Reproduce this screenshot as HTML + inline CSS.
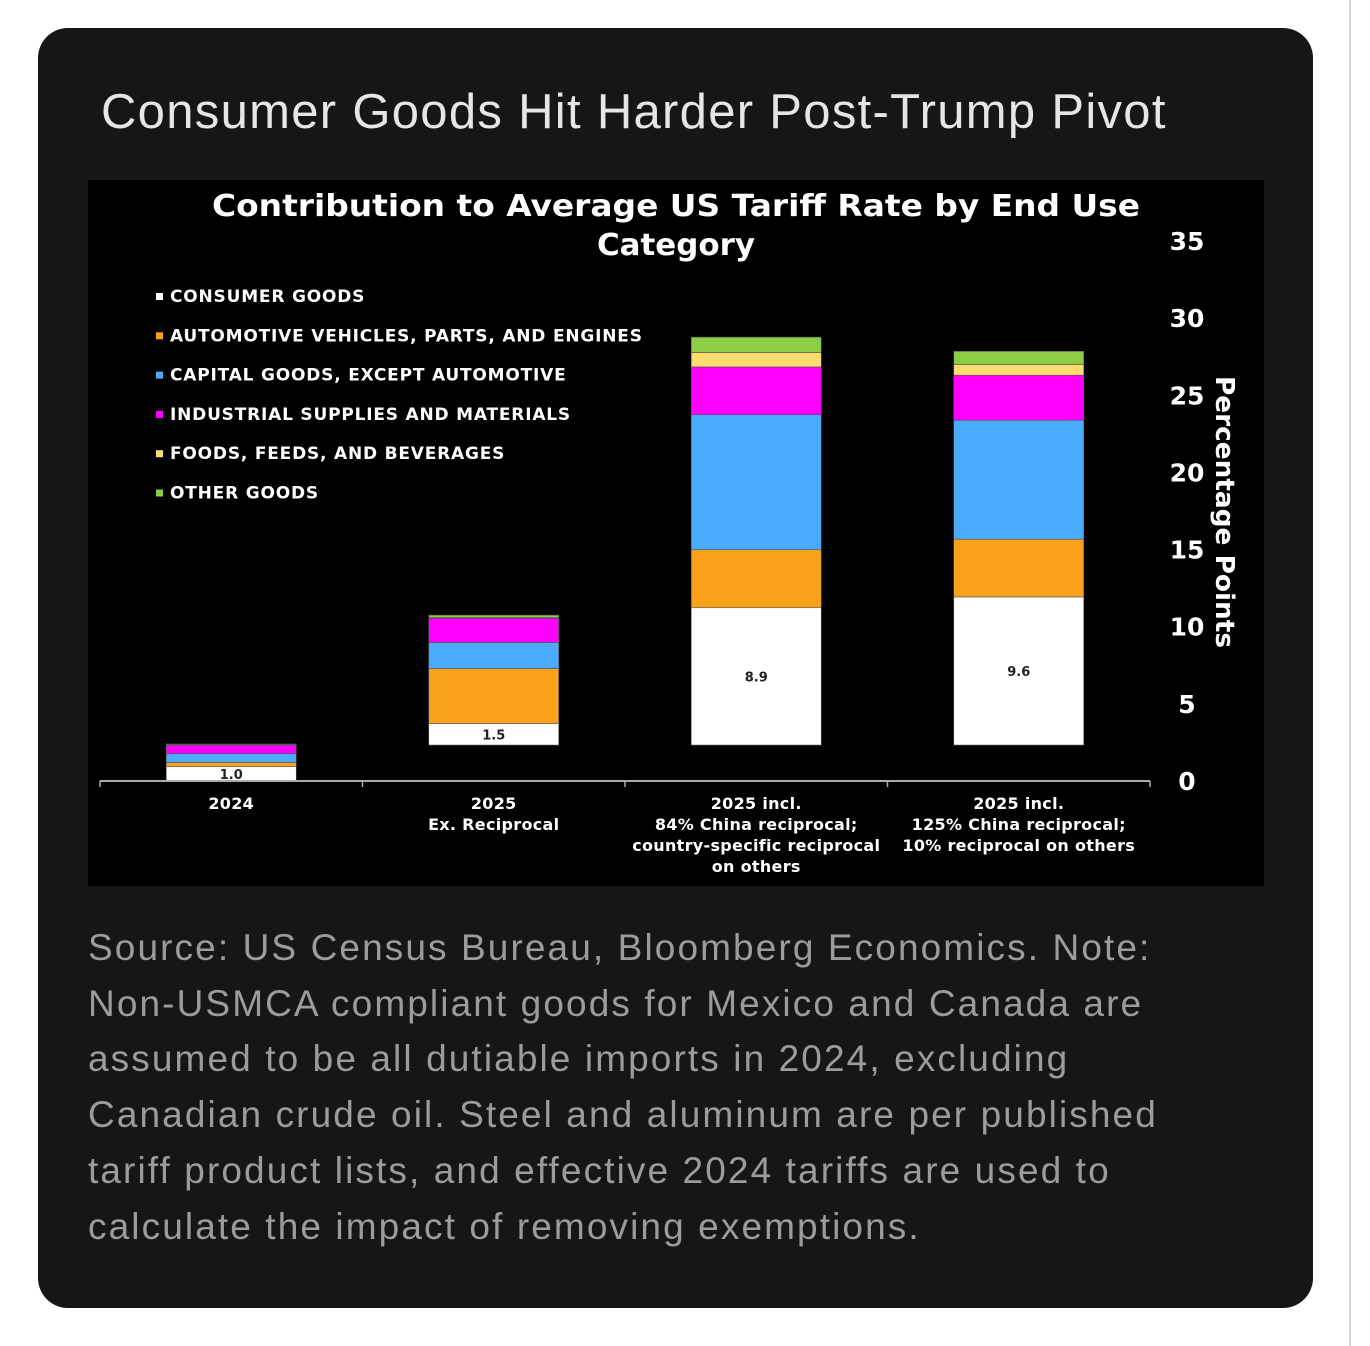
<!DOCTYPE html>
<html><head><meta charset="utf-8">
<style>
html,body{margin:0;padding:0;background:#fff;}
body{width:1370px;height:1346px;position:relative;overflow:hidden;font-family:"Liberation Sans",sans-serif;}
#card{position:absolute;left:38px;top:28px;width:1275px;height:1280px;background:#161616;border-radius:30px;}
#scroll{position:absolute;left:1349px;top:0;width:2px;height:1346px;background:#d8d8d8;}
#title{position:absolute;left:101px;top:84px;font-size:49px;color:#e6e6e6;white-space:nowrap;letter-spacing:1.3px;}
#source{position:absolute;left:88px;top:920px;width:1200px;font-size:37px;line-height:55.7px;color:#9c9c9c;letter-spacing:2.1px;white-space:nowrap;}
svg{position:absolute;left:0;top:0;}
svg text{font-family:"DejaVu Sans","Liberation Sans",sans-serif;font-weight:bold;}
</style></head>
<body>
<div id="scroll"></div>
<div id="card"></div>
<div id="title">Consumer Goods Hit Harder Post-Trump Pivot</div>
<svg id="chart" width="1370" height="1346">
<rect x="88" y="180" width="1176" height="706" fill="#000"/>
<text x="676" y="216" text-anchor="middle" fill="#fff" font-size="30" textLength="928" lengthAdjust="spacingAndGlyphs">Contribution to Average US Tariff Rate by End Use</text>
<text x="676" y="255" text-anchor="middle" fill="#fff" font-size="30" textLength="158" lengthAdjust="spacingAndGlyphs">Category</text>
<g id="legend"></g>
<g id="bars"></g>
<g id="axis"></g>
<text transform="translate(1216,512) rotate(90)" text-anchor="middle" fill="#fff" font-size="26" textLength="272" lengthAdjust="spacingAndGlyphs">Percentage Points</text>
</svg>
<div id="source">Source: US Census Bureau, Bloomberg Economics. Note:<br>Non-USMCA compliant goods for Mexico and Canada are<br>assumed to be all dutiable imports in 2024, excluding<br>Canadian crude oil. Steel and aluminum are per published<br>tariff product lists, and effective 2024 tariffs are used to<br>calculate the impact of removing exemptions.</div>
<script>
const categories = [["2024"],["2025","Ex. Reciprocal"],["2025 incl.","84% China reciprocal;","country-specific reciprocal","on others"],["2025 incl.","125% China reciprocal;","10% reciprocal on others"]];
const seriesNames = ["CONSUMER GOODS","AUTOMOTIVE VEHICLES, PARTS, AND ENGINES","CAPITAL GOODS, EXCEPT AUTOMOTIVE","INDUSTRIAL SUPPLIES AND MATERIALS","FOODS, FEEDS, AND BEVERAGES","OTHER GOODS"];
const seriesColors = ["#ffffff","#fba21c","#4aabff","#ff00ff","#ffdc6e","#8dcc45"];
const hiddenBase = [0, 2.33, 2.33, 2.33];
const consumer = [0.93, 1.4, 8.9, 9.6];
const automotive = [0.27, 3.56, 3.76, 3.74];
const capital = [0.57, 1.69, 8.75, 7.71];
const industrial = [0.56, 1.57, 3.1, 2.92];
const foods = [0.03, 0.05, 0.93, 0.69];
const other = [0.04, 0.15, 1.0, 0.86];
const valueLabels = ["1.0","1.5","8.9","9.6"];
const yTicks = [0,5,10,15,20,25,30,35];
const series = [consumer, automotive, capital, industrial, foods, other];

const NS="http://www.w3.org/2000/svg";
const y0=781, pxPer=540/35, xL=100, catW=262.5, barW=130;
const yScale = v => y0 - v*pxPer;
const xCenter = i => xL + catW*(i+0.5);
function mk(tag, attrs, parent){const e=document.createElementNS(NS,tag);for(const k in attrs)e.setAttribute(k,attrs[k]);parent.appendChild(e);return e;}

const lg=document.getElementById('legend');
seriesNames.forEach((n,i)=>{
  const yy=301+i*39.3;
  const sq=mk('rect',{x:156,y:yy-8,width:7,height:7,fill:seriesColors[i]},lg);
  
  
  const t=mk('text',{x:170,y:yy+1,fill:'#fff','font-size':17,'letter-spacing':0.8},lg);
  t.textContent=n;
  
  
});

const bg=document.getElementById('bars');
categories.forEach((c,i)=>{
  let cum=hiddenBase[i];
  const x=xCenter(i)-barW/2;
  series.forEach((s,k)=>{
    const top=yScale(cum+s[i]), bot=yScale(cum);
    const r=mk('rect',{x:x,y:top,width:barW,height:Math.max(0,bot-top),fill:seriesColors[k],stroke:'#555','stroke-width':0.6},bg);
    
    
    cum+=s[i];
  });
  const midC=yScale(hiddenBase[i]+consumer[i]/2);
  const vl=mk('text',{x:xCenter(i),y:midC+5,'text-anchor':'middle',fill:'#222','font-size':13},bg);
  vl.textContent=valueLabels[i];
  
  
});

const ax=document.getElementById('axis');
const base=mk('line',{x1:xL,y1:y0,x2:xL+catW*4,y2:y0,stroke:'#aaa','stroke-width':2},ax);


for(let i=0;i<=4;i++){
  const tk=mk('line',{x1:xL+catW*i,y1:y0,x2:xL+catW*i,y2:y0+6,stroke:'#aaa','stroke-width':1.5},ax);
  
  
}
categories.forEach((c,i)=>{
  c.forEach((ln,j)=>{
    const t=mk('text',{x:xCenter(i),y:809+j*21,'text-anchor':'middle',fill:'#fff','font-size':16,'letter-spacing':0.3},ax);
    t.textContent=ln;
    
    
  });
});
yTicks.forEach(v=>{
  const t=mk('text',{x:1187,y:yScale(v)+9,'text-anchor':'middle',fill:'#fff','font-size':25},ax);
  t.textContent=v;
  
  
});
</script>
</body></html>
